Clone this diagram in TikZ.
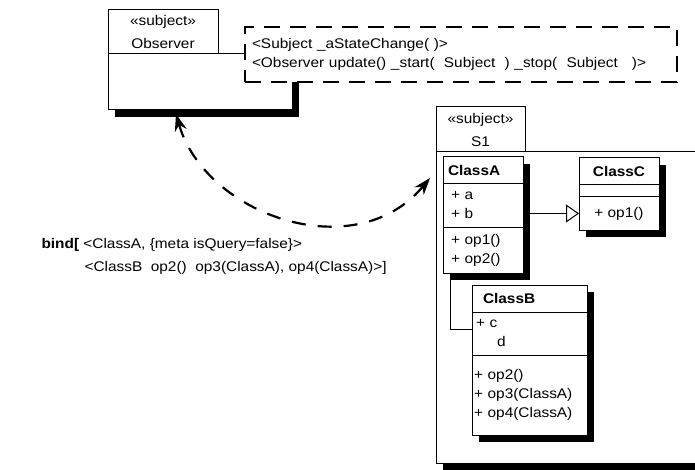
\documentclass[tikz,border=0pt]{standalone}
\usepackage{fontspec}
\setmainfont{Liberation Sans}[FakeStretch=1.1]
\usepackage{tikz}
\usetikzlibrary{arrows.meta, positioning, shadows}

\begin{document}
\begin{tikzpicture}[x=1pt, y=-1pt,
  every node/.style={font=\fontsize{14}{19}\selectfont},
  umlbox/.style={draw, fill=white, line width=1pt, outer sep=0pt, inner sep=0pt},
  shadowed/.style={drop shadow={shadow xshift=7pt, shadow yshift=-7pt, fill=black, opacity=1}},
  cname/.style={umlbox, shadowed, minimum height=27pt, align=left, font=\fontsize{14}{19}\selectfont\bfseries},
  comp/.style={umlbox, shadowed, align=left},
  tab/.style={umlbox, align=center, font=\fontsize{14}{23}\selectfont}]
\clip (0,0) rectangle (695,470);

\node[umlbox, shadowed, minimum width=184pt, minimum height=56pt] (obsBody) at (200,82) {};
\node[tab, minimum width=110pt, minimum height=44pt] (obsTab) at (163,32) {«subject»\\Observer};
\node[umlbox, dash pattern=on 16pt off 10pt, line width=2pt, align=left, text width=418pt, inner xsep=7pt, minimum height=55pt] (obsParams) at (461,54.5) {<Subject \_aStateChange( )>\\<Observer update() \_start( \ Subject \ ) \_stop( \ Subject \ \ )>};

\node[anchor=west, align=left, font=\fontsize{14}{23}\selectfont] (bindLbl) at (38,256.5) {\textbf{bind[} <ClassA, \{meta isQuery=false\}>\\\hspace*{43pt}<ClassB \ op2() \ op3(ClassA), op4(ClassA)>]};

\node[umlbox, shadowed, minimum width=269pt, minimum height=311pt] (s1Body) at (570.5,307.5) {};
\node[tab, minimum width=89pt, minimum height=45pt] (s1Tab) at (480.5,129.5) {«subject»\\S1};

\node[cname, text width=70pt, inner xsep=5pt] (aName) at (483,170.5) {ClassA};
\node[comp, text width=64pt, inner xsep=8pt, minimum height=43pt, below=0pt of aName] (aAttr) {+ a\\+ b};
\node[comp, text width=64pt, inner xsep=8pt, minimum height=46pt, below=0pt of aAttr] (aOps) {+ op1()\\+ op2()};

\node[cname, text width=80pt, align=center] (cName) at (619,171.5) {ClassC};
\node[comp, minimum width=80pt, minimum height=12pt, below=0pt of cName] (cAttr) {};
\node[comp, minimum width=80pt, minimum height=33pt, below=0pt of cAttr] (cOps) {+ op1()};

\draw[line width=1pt] ([xshift=7pt]aOps.south west) |- ([yshift=4pt]529.5,333.5);
\node[cname, text width=93pt, inner xsep=11pt] (bName) at (529.5,298.5) {ClassB};
\node[comp, text width=107pt, inner xsep=4pt, minimum height=43pt, below=0pt of bName] (bAttr) {+ c\\\hspace*{21pt}d};
\node[comp, text width=111pt, inner xsep=2pt, minimum height=80pt, below=0pt of bAttr] (bOps) {+ op2()\\+ op3(ClassA)\\+ op4(ClassA)};

\draw[line width=1pt, -{Triangle[open, fill=white, length=13pt, width=18pt]}] (aAttr.east |- cOps.west) -- (cOps.west);

\draw[line width=2.2pt, dash pattern=on 14pt off 12pt, {Stealth[length=17pt, width=12pt]}-{Stealth[length=17pt, width=12pt]}] ([xshift=-24pt, yshift=-4pt]obsBody.south) .. controls (205,215) and (355,268) .. ([xshift=-6pt, yshift=-26pt]s1Body.north west);
\end{tikzpicture}
\end{document}
